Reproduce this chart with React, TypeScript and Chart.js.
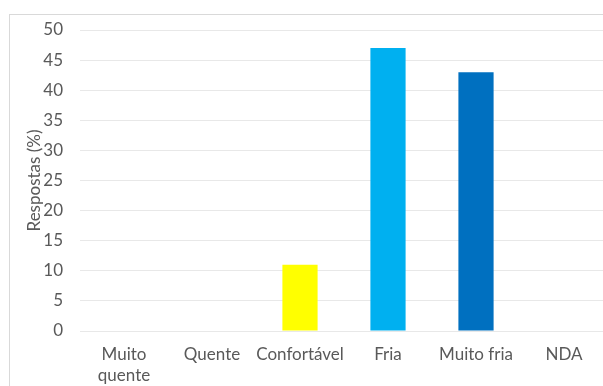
import React, { useEffect, useRef } from "react";
import { Chart, registerables } from "chart.js";

Chart.register(...registerables);

const categories: (string | string[])[] = [
  ["Muito", "quente"],
  "Quente",
  "Confortável",
  "Fria",
  "Muito fria",
  "NDA",
];
const respostas: number[] = [0, 0, 11, 47, 43, 0];
const barColors: string[] = ["#FFFF00", "#FFFF00", "#FFFF00", "#00B0F0", "#0070C0", "#0070C0"];
const yMin = 0;
const yMax = 50;
const yStep = 5;
const yTitle = "Respostas (%)";

const FONT = "Lato, 'Open Sans', sans-serif";
const TEXT = "#595959";
const SIZE = 17;

// Rotated y-axis caption, centred on the plot area.
const yTitlePlugin = {
  id: "yTitle",
  afterDraw(chart: Chart) {
    const { ctx, chartArea } = chart;
    ctx.save();
    ctx.translate(35, (chartArea.top + chartArea.bottom) / 2);
    ctx.rotate(-Math.PI / 2);
    ctx.fillStyle = TEXT;
    ctx.font = `${SIZE}px ${FONT}`;
    ctx.textAlign = "center";
    ctx.textBaseline = "middle";
    ctx.fillText(yTitle, 0, 0);
    ctx.restore();
  },
};

export default function App() {
  const ref = useRef<HTMLCanvasElement>(null);

  useEffect(() => {
    if (!ref.current) return;
    const chart = new Chart(ref.current, {
      type: "bar",
      data: {
        labels: categories,
        datasets: [
          {
            data: respostas,
            backgroundColor: barColors,
            borderWidth: 0,
            categoryPercentage: 1,
            barPercentage: 0.4,
          },
        ],
      },
      options: {
        animation: false,
        responsive: false,
        maintainAspectRatio: false,
        layout: { padding: { top: 30, right: 12, left: 0, bottom: 0 } },
        plugins: {
          legend: { display: false },
          tooltip: { enabled: false },
        },
        scales: {
          x: {
            grid: { display: false, drawTicks: false },
            border: { display: false },
            ticks: {
              color: TEXT,
              font: { family: FONT, size: SIZE, lineHeight: 1.25 },
              padding: 13,
              maxRotation: 0,
              autoSkip: false,
            },
            afterFit: (s: any) => {
              s.height = 55;
            },
          },
          y: {
            min: yMin,
            max: yMax,
            grid: {
              color: "#e8e8e8",
              drawTicks: false,
            },
            border: { display: false },
            ticks: {
              stepSize: yStep,
              color: TEXT,
              font: { family: FONT, size: SIZE },
              padding: 17,
            },
            afterFit: (s: any) => {
              s.width = 80;
            },
          },
        },
      },
      plugins: [yTitlePlugin],
    });
    return () => chart.destroy();
  }, []);

  return (
    <div
      style={{
        position: "fixed",
        left: 0,
        top: 0,
        width: 603,
        height: 386,
        overflow: "hidden",
        background: "#fff",
      }}
    >
      <div
        style={{
          position: "absolute",
          left: 9,
          top: 14,
          width: 700,
          height: 500,
          borderTop: "1px solid #d9d9d9",
          borderLeft: "1px solid #d9d9d9",
        }}
      />
      <canvas
        ref={ref}
        width={620}
        height={386}
        style={{ position: "absolute", left: 0, top: 0, width: 620, height: 386 }}
      />
    </div>
  );
}
